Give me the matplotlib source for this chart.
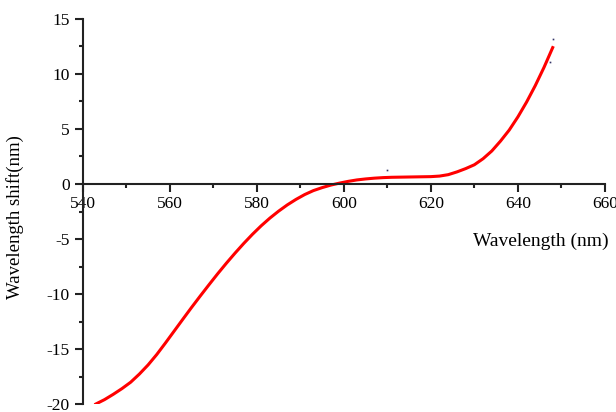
import numpy as np
import matplotlib
matplotlib.use('Agg')
import matplotlib.pyplot as plt
from matplotlib.ticker import MultipleLocator

# curve
wavelength = [543, 545, 547, 549, 551, 553, 555, 557, 559, 561,
              563, 565, 567, 569, 571, 573, 575, 577, 579, 581,
              583, 585, 587, 589, 591, 593, 595, 597, 599, 601,
              603, 605, 607, 609, 611, 614, 617, 620, 622, 624,
              626, 628, 630, 632, 634, 636, 638, 640, 642, 644,
              646, 648]
shift = [-20.0, -19.6, -19.12, -18.6, -18.02, -17.28, -16.45, -15.5, -14.45, -13.37,
         -12.29, -11.22, -10.18, -9.16, -8.16, -7.2, -6.28, -5.4, -4.57, -3.8,
         -3.1, -2.47, -1.9, -1.4, -0.96, -0.6, -0.33, -0.1, 0.08, 0.24,
         0.37, 0.46, 0.53, 0.58, 0.61, 0.63, 0.65, 0.67, 0.72, 0.85,
         1.1, 1.4, 1.75, 2.3, 3.0, 3.9, 4.9, 6.1, 7.45, 8.95,
         10.6, 12.4]

# tiny dark specks visible in the reference
speck_x = [610, 648.1, 647.4]
speck_y = [1.27, 13.2, 11.1]

xticks = [540, 560, 580, 600, 620, 640, 660]
yticks = [-20, -15, -10, -5, 0, 5, 10, 15]

plt.rcParams['font.family'] = ['Liberation Serif', 'DejaVu Serif']
plt.rcParams['axes.unicode_minus'] = False

fig = plt.figure(figsize=(6.16, 4.12), dpi=100)
ax = fig.add_axes([0.1344, 0.0194, 0.8476, 0.9345])

ax.plot(wavelength, shift, color='red', linewidth=2.2)
ax.plot(speck_x, speck_y, linestyle='none', marker='s', markersize=1.2,
        color='#333366', markeredgewidth=0)

ax.set_xlim(540, 660)
ax.set_ylim(-20, 15)
ax.set_xticks(xticks)
ax.set_yticks(yticks)
ax.xaxis.set_minor_locator(MultipleLocator(10))
ax.yaxis.set_minor_locator(MultipleLocator(2.5))

for s in ['top', 'right']:
    ax.spines[s].set_visible(False)
ax.spines['bottom'].set_position(('data', 0))
for s in ['left', 'bottom']:
    ax.spines[s].set_linewidth(1.5)
    ax.spines[s].set_color('#222222')

ax.tick_params(which='major', direction='out', length=5.5, width=1.5,
               color='#222222', labelsize=12.5, pad=4)
ax.tick_params(which='minor', direction='out', length=3, width=1.5,
               color='#222222')
ax.tick_params(axis='x', which='major', pad=3)

ax.set_xlabel('Wavelength (nm)', fontsize=14)
ax.set_ylabel('Wavelength shift(nm)', fontsize=13.5)
ax.xaxis.set_label_coords(0.878, 0.444)
ax.yaxis.set_label_coords(-0.113, 0.486)

fig.savefig('out.png', dpi=100)
